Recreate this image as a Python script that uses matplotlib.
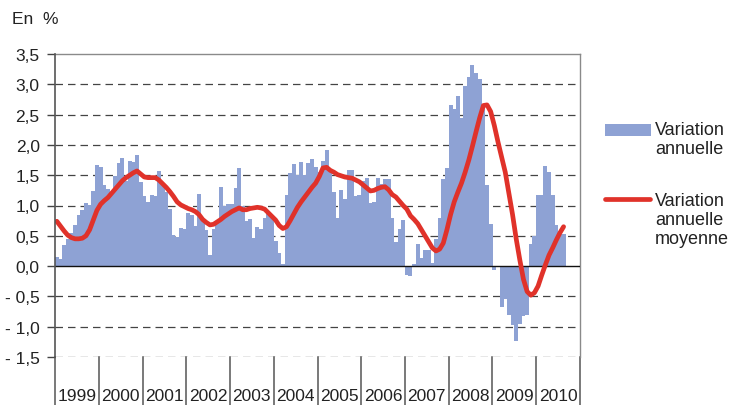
import numpy as np
import matplotlib
matplotlib.use("Agg")
import matplotlib.pyplot as plt
from matplotlib.patches import Rectangle
from matplotlib.lines import Line2D

plt.rcParams['font.family'] = ['Liberation Sans', 'DejaVu Sans']

years = [1999, 2000, 2001, 2002, 2003, 2004, 2005, 2006, 2007, 2008, 2009, 2010]

# variation annuelle (monthly, Jan 1999 - Aug 2010), in %
var_annuelle = [
    0.15, 0.12, 0.35, 0.45, 0.55, 0.68, 0.85, 0.93, 1.04, 1.01, 1.24, 1.67,   # 1999
    1.64, 1.34, 1.27, 1.19, 1.49, 1.70, 1.78, 1.40, 1.74, 1.71, 1.84, 1.39,   # 2000
    1.16, 1.05, 1.18, 1.15, 1.57, 1.36, 1.22, 0.95, 0.51, 0.48, 0.63, 0.62,   # 2001
    0.88, 0.85, 0.66, 1.19, 0.74, 0.60, 0.19, 0.62, 0.72, 1.30, 1.00, 1.03,   # 2002
    1.03, 1.29, 1.62, 1.00, 0.75, 0.77, 0.47, 0.65, 0.62, 0.80, 0.86, 0.80,   # 2003
    0.42, 0.22, 0.03, 1.18, 1.54, 1.68, 1.50, 1.71, 1.50, 1.70, 1.76, 1.63,   # 2004
    1.55, 1.74, 1.92, 1.58, 1.23, 0.80, 1.26, 1.10, 1.59, 1.59, 1.15, 1.17,   # 2005
    1.40, 1.45, 1.04, 1.05, 1.45, 1.36, 1.43, 1.43, 0.80, 0.40, 0.62, 0.76,   # 2006
    -0.15, -0.16, 0.03, 0.36, 0.13, 0.27, 0.26, 0.05, 0.45, 0.80, 1.43, 1.62, # 2007
    2.66, 2.60, 2.81, 2.45, 2.97, 3.12, 3.32, 3.18, 3.09, 2.68, 1.34, 0.70,   # 2008
    -0.07, 0.00, -0.67, -0.54, -0.81, -0.98, -1.23, -0.95, -0.83, -0.80, 0.36, 0.50,  # 2009
    1.18, 1.18, 1.65, 1.55, 1.17, 0.68, 0.53, 0.53,                           # 2010
]

# variation annuelle moyenne (monthly)
var_moyenne = [
    0.74, 0.66, 0.58, 0.51, 0.47, 0.45, 0.45, 0.46, 0.50, 0.60, 0.76, 0.92,
    1.02, 1.08, 1.13, 1.20, 1.27, 1.34, 1.41, 1.46, 1.50, 1.54, 1.57, 1.52,
    1.47, 1.46, 1.46, 1.46, 1.42, 1.36, 1.30, 1.23, 1.15, 1.06, 1.01, 0.98,
    0.95, 0.93, 0.90, 0.85, 0.77, 0.72, 0.68, 0.69, 0.73, 0.77, 0.82, 0.86,
    0.90, 0.93, 0.96, 0.93, 0.93, 0.95, 0.96, 0.97, 0.96, 0.94, 0.88, 0.82,
    0.76, 0.67, 0.62, 0.65, 0.75, 0.86, 0.97, 1.06, 1.14, 1.22, 1.30, 1.37,
    1.48, 1.62, 1.63, 1.58, 1.55, 1.51, 1.49, 1.47, 1.46, 1.45, 1.42, 1.39,
    1.34, 1.29, 1.24, 1.25, 1.28, 1.30, 1.31, 1.26, 1.18, 1.14, 1.07, 1.00,
    0.94, 0.83, 0.77, 0.70, 0.60, 0.50, 0.40, 0.30, 0.25, 0.28, 0.38, 0.60,
    0.85, 1.06, 1.22, 1.37, 1.55, 1.75, 1.98, 2.22, 2.45, 2.65, 2.66, 2.55,
    2.32, 2.05, 1.80, 1.55, 1.20, 0.85, 0.45, 0.10, -0.22, -0.42, -0.48, -0.44,
    -0.33, -0.15, 0.02, 0.18, 0.30, 0.43, 0.55, 0.65,
]

yticks = [3.5, 3.0, 2.5, 2.0, 1.5, 1.0, 0.5, 0.0, -0.5, -1.0, -1.5]
ytick_labels = ['3,5', '3,0', '2,5', '2,0', '1,5', '1,0', '0,5', '0,0', '- 0,5', '- 1,0', '- 1,5']

W, H = 733, 406
fig = plt.figure(figsize=(W / 100, H / 100), dpi=100)
ax = fig.add_axes([55 / W, 48 / H, 525 / W, 303 / H])

x = np.arange(len(var_annuelle)) + 0.5
# slightly overlapping bars so no white seams appear between months
ax.bar(x, var_annuelle, width=1.08, color='#8ea2d4', linewidth=0, zorder=2)
ax.axhline(0, color='#111111', lw=1.0, zorder=3)
ax.plot(np.arange(len(var_moyenne)) + 0.5, var_moyenne, color='#e0322a', lw=3.4,
        solid_capstyle='round', solid_joinstyle='round', zorder=4)

# dashed grid
for v in yticks:
    if v in (0.0, 3.5):
        continue
    ax.axhline(v, color='#444444', lw=0.9, ls=(0, (6, 4)), zorder=0)

ax.set_xlim(0, 12 * len(years))
ax.set_ylim(-1.5, 3.5)
ax.set_yticks(yticks)
ax.set_yticklabels(ytick_labels)
ax.set_xticks([])
ax.tick_params(axis='y', length=6, width=1, color='#444444', pad=5,
               labelsize=12.5, labelcolor='#222222')

for s in ['top', 'right']:
    ax.spines[s].set_color('#8a8a8a')
    ax.spines[s].set_linewidth(1.0)
ax.spines['left'].set_color('#555555')
ax.spines['left'].set_linewidth(1.2)
ax.spines['left'].set_zorder(5)
ax.spines['bottom'].set_visible(False)

# year separators and labels below the plot
y_bottom = -1.5 - 50 / 60.6
for n in range(len(years) + 1):
    ax.plot([12 * n, 12 * n], [-1.5, y_bottom], color='#555555', lw=1.1,
            clip_on=False, zorder=1)
for n, yr in enumerate(years):
    ax.text(12 * n + 6, -2.13, str(yr), ha='center', va='center',
            fontsize=12.5, color='#222222', clip_on=False)

fig.text(12 / W, 1 - 20 / H, 'En  %', ha='left', va='center', fontsize=12.5, color='#222222')

# legend
fig.add_artist(Rectangle((605 / W, 1 - 137 / H), 46 / W, 12 / H,
                         transform=fig.transFigure, color='#8ea2d4', lw=0))
fig.text(655 / W, 1 - 122 / H, 'Variation\nannuelle', ha='left', va='top',
         fontsize=13, color='#222222', linespacing=1.15)
fig.add_artist(Line2D([605 / W, 650 / W], [1 - 200 / H, 1 - 200 / H],
                      transform=fig.transFigure, color='#e0322a', lw=3.4,
                      solid_capstyle='round'))
fig.text(655 / W, 1 - 193 / H, 'Variation\nannuelle\nmoyenne', ha='left', va='top',
         fontsize=13, color='#222222', linespacing=1.15)

fig.savefig('out.png', dpi=100)
